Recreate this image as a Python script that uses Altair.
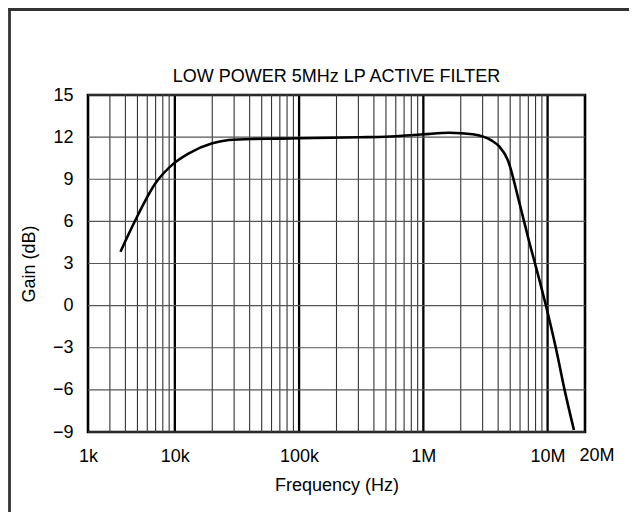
import altair as alt
import pandas as pd

# Curve
freq_hz = [3650, 4820, 6980, 9810, 12970, 20000, 27200, 41700, 69000, 100000,
           305000, 500000, 1000000, 1620000, 2500000, 3550000, 4100000, 4780000,
           5940000, 7160000, 8600000, 9750000, 11750000, 13700000, 16300000]
gain_db = [3.84, 6.1, 8.71, 10.13, 10.85, 11.56, 11.8, 11.87, 11.89, 11.92,
           11.99, 12.03, 12.2, 12.31, 12.2, 11.75, 11.32, 10.37,
           7.29, 4.44, 1.82, -0.08, -3.16, -6.0, -8.86]

# Axis / grid values
x_tick_values = [2000, 10000, 100000, 1000000, 10000000]
x_tick_labels = ["1k", "10k", "100k", "1M", "10M"]
x_end_value = 20000000
x_end_label = "20M"
major_freqs = [10000, 100000, 1000000, 10000000]
minor_freqs = [m * d for d in [1000, 10000, 100000, 1000000] for m in range(2, 10) if m * d > 2000]
gain_ticks = [-9, -6, -3, 0, 3, 6, 9, 12, 15]
title_text = "LOW POWER 5MHz LP ACTIVE FILTER"

W, H = 497, 337
FONT = "Liberation Sans"
FS = 18

xscale = alt.Scale(type="log", domain=[2000, x_end_value], nice=False)
yscale = alt.Scale(domain=[-9, 15], nice=False, zero=False)

label_expr = ""
for v, l in zip(x_tick_values, x_tick_labels):
    label_expr += f"datum.value == {v} ? '{l}' : "
label_expr += "''"

x_axis = alt.Axis(values=x_tick_values, labelExpr=label_expr, grid=False, ticks=False,
                  domain=False, title="Frequency (Hz)", labelFontSize=FS,
                  labelPadding=15, titleFontSize=FS, titlePadding=11,
                  titleFontWeight="normal", labelFont=FONT, titleFont=FONT,
                  labelColor="black", titleColor="black", labelFlush=False)
y_axis = alt.Axis(values=gain_ticks, grid=False, ticks=False, domain=False,
                  title="Gain (dB)", labelFontSize=FS, labelPadding=15,
                  titleFontSize=FS, titlePadding=14, titleFontWeight="normal",
                  labelFont=FONT, titleFont=FONT, labelColor="black",
                  titleColor="black", labelFlush=False)

curve = pd.DataFrame({"f": freq_hz, "g": gain_db})
minor_df = pd.DataFrame({"f": minor_freqs})
major_df = pd.DataFrame({"f": major_freqs})
hgrid_df = pd.DataFrame({"g": gain_ticks})
one = pd.DataFrame({"a": [0]})

minor = alt.Chart(minor_df).mark_rule(color="#333333", strokeWidth=1.1).encode(
    x=alt.X("f:Q", scale=xscale, axis=x_axis)
)
major = alt.Chart(major_df).mark_rule(color="black", strokeWidth=2.3).encode(
    x=alt.X("f:Q", scale=xscale, axis=x_axis)
)
hgrid = alt.Chart(hgrid_df).mark_rule(color="#555555", strokeWidth=1.2).encode(
    y=alt.Y("g:Q", scale=yscale, axis=y_axis)
)

line = alt.Chart(curve).mark_line(color="black", strokeWidth=2.6, interpolate="monotone").encode(
    x=alt.X("f:Q", scale=xscale, axis=x_axis),
    y=alt.Y("g:Q", scale=yscale, axis=y_axis),
)

end_label = alt.Chart(pd.DataFrame({"f": [x_end_value], "t": [x_end_label]})).mark_text(
    font=FONT, fontSize=FS, color="black", baseline="top", align="center", dx=12, dy=15
).encode(
    x=alt.X("f:Q", scale=xscale, axis=x_axis),
    y=alt.value(H),
    text="t:N",
)

title = alt.Chart(pd.DataFrame({"t": [title_text]})).mark_text(
    font=FONT, fontSize=FS, color="black", baseline="alphabetic", align="center"
).encode(
    x=alt.value(W / 2), y=alt.value(-13.5), text="t:N"
)

frame_top = alt.Chart(one).mark_rule(color="#333333", strokeWidth=2.8).encode(
    x=alt.value(-80), x2=alt.value(W + 60), y=alt.value(-85.5)
)
frame_left = alt.Chart(one).mark_rule(color="#333333", strokeWidth=2.8).encode(
    x=alt.value(-78.5), y=alt.value(-87), y2=alt.value(H + 90)
)

chart = alt.layer(minor, major, hgrid, line, end_label, title, frame_top, frame_left).properties(
    width=W, height=H,
    autosize=alt.AutoSizeParams(type="none"),
    padding={"left": 80, "top": 87, "right": 44, "bottom": 80},
).configure(background="white").configure_view(stroke="black", strokeWidth=2.6)

chart.save("out.html", embed_options={"renderer": "svg", "actions": False})
